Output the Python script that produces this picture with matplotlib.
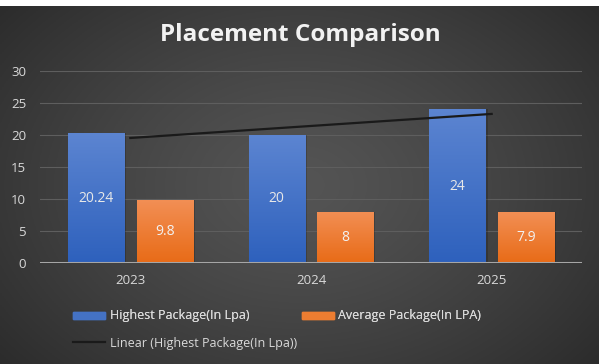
import numpy as np
import matplotlib
matplotlib.use("Agg")
import matplotlib.pyplot as plt
from matplotlib.patches import Rectangle
from matplotlib.lines import Line2D

plt.rcParams["font.family"] = ["Open Sans", "DejaVu Sans"]

categories = ["2023", "2024", "2025"]
highest = [20.24, 20, 24]
average = [9.8, 8, 7.9]
highest_labels = ["20.24", "20", "24"]
average_labels = ["9.8", "8", "7.9"]
yticks = [0, 5, 10, 15, 20, 25, 30]

W, H = 603, 364
fig = plt.figure(figsize=(W / 100, H / 100), dpi=100)
fig.patch.set_facecolor("white")

# background panel with radial gradient
bg = fig.add_axes([0, 0, 599 / W, (H - 6) / H])
bg.set_axis_off()
yy, xx = np.mgrid[0:1:200j, 0:1:300j]
r = np.sqrt(((xx - 0.5) / 0.75) ** 2 + ((yy - 0.5) / 0.9) ** 2)
val = 0.33 - 0.19 * np.clip(r, 0, 1) ** 1.3
bg.imshow(np.dstack([val, val, val]), extent=[0, 1, 0, 1], aspect="auto", origin="lower")
bg.set_xlim(0, 1)
bg.set_ylim(0, 1)

# plot axes
x0, x1 = 40 / W, 582 / W
y0, y1 = 1 - 263 / H, 1 - 71 / H
ax = fig.add_axes([x0, y0, x1 - x0, y1 - y0])
ax.patch.set_alpha(0)
ax.set_ylim(0, 30)
ax.set_xlim(0.5, 3.5)
ax.set_yticks(yticks)
ax.set_xticks([1, 2, 3])
ax.set_xticklabels(categories)
for s in ax.spines.values():
    s.set_visible(False)
ax.tick_params(axis="both", length=0, colors="#d9d9d9", labelsize=9.5)
ax.tick_params(axis="y", pad=10)
ax.tick_params(axis="x", pad=8)
ax.yaxis.grid(True, color="#5e5e5e", linewidth=0.8)
ax.set_axisbelow(True)
ax.axhline(0, color="#a6a6a6", linewidth=2.2, zorder=4)

xs = np.arange(1, len(categories) + 1)
bw = 0.31
off = 0.19

def grad_bars(bars, top, bottom):
    for b in bars:
        x, w, h = b.get_x(), b.get_width(), b.get_height()
        ax.add_patch(Rectangle((x + 0.012, 0), w, h, color="black", alpha=0.18, zorder=1.5, lw=0))
        g = np.linspace(0, 1, 100)[:, None]
        c = np.array(bottom)[None, :] * (1 - g) + np.array(top)[None, :] * g
        img = ax.imshow(c[:, None, :], extent=[x, x + w, 0, h], aspect="auto",
                        origin="lower", zorder=2)
        img.set_clip_path(b)

hb = ax.bar(xs - off, highest, width=bw, color="#4472c4", zorder=2)
ab = ax.bar(xs + off, average, width=bw, color="#ed7d31", zorder=2)
grad_bars(hb, (0.36, 0.52, 0.82), (0.18, 0.38, 0.74))
grad_bars(ab, (0.95, 0.56, 0.33), (0.91, 0.42, 0.09))
ax.set_xlim(0.5, 3.5)
ax.set_ylim(0, 30)

for x, v, t in zip(xs - off, highest, highest_labels):
    ax.text(x, v / 2, t, ha="center", va="center", color="#e8e8e8", fontsize=10, zorder=5)
for x, v, t in zip(xs + off, average, average_labels):
    ax.text(x, v / 2, t, ha="center", va="center", color="#f2f2f2", fontsize=10, zorder=5)

# linear trendline
coef = np.polyfit(xs, highest, 1)
tl = np.polyval(coef, xs)
ax.plot(xs, tl, color="#1a1a1a", linewidth=1.6, zorder=6)

fig.text(300 / W, 1 - 35 / H, "Placement Comparison", ha="center", va="center",
         color="#f2f2f2", fontsize=17.5, fontweight="bold")

# legend
handles1 = [Rectangle((0, 0), 1, 1, color="#4472c4"), Rectangle((0, 0), 1, 1, color="#ed7d31")]
leg1 = fig.legend(handles1, ["Highest Package(In Lpa)", "Average Package(In LPA)"],
                  loc="center left", bbox_to_anchor=(62 / W, 1 - 316 / H), ncol=2,
                  frameon=False, fontsize=9, labelcolor="#d9d9d9",
                  handlelength=2.56, handleheight=0.5, columnspacing=4.2, handletextpad=0.35)
leg2 = fig.legend([Line2D([0], [0], color="#1a1a1a", lw=1.6)],
                  ["Linear (Highest Package(In Lpa))"],
                  loc="center left", bbox_to_anchor=(62 / W, 1 - 343 / H),
                  frameon=False, fontsize=9, labelcolor="#d9d9d9",
                  handlelength=2.56, handletextpad=0.35)
fig.add_artist(leg1)

fig.savefig("out.png", dpi=100, facecolor="white")
